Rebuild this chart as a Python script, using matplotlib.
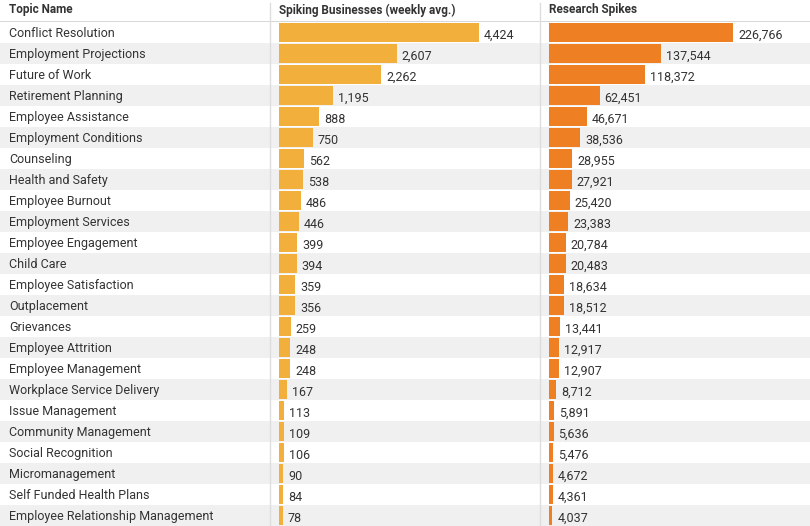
import matplotlib.pyplot as plt

topics = [
    "Conflict Resolution", "Employment Projections", "Future of Work",
    "Retirement Planning", "Employee Assistance", "Employment Conditions",
    "Counseling", "Health and Safety", "Employee Burnout", "Employment Services",
    "Employee Engagement", "Child Care", "Employee Satisfaction", "Outplacement",
    "Grievances", "Employee Attrition", "Employee Management",
    "Workplace Service Delivery", "Issue Management", "Community Management",
    "Social Recognition", "Micromanagement", "Self Funded Health Plans",
    "Employee Relationship Management",
]
spiking = [4424, 2607, 2262, 1195, 888, 750, 562, 538, 486, 446, 399, 394,
           359, 356, 259, 248, 248, 167, 113, 109, 106, 90, 84, 78]
research = [226766, 137544, 118372, 62451, 46671, 38536, 28955, 27921, 25420,
            23383, 20784, 20483, 18634, 18512, 13441, 12917, 12907, 8712, 5891,
            5636, 5476, 4672, 4361, 4037]
headers = ["Topic Name", "Spiking Businesses (weekly avg.)", "Research Spikes"]

plt.rcParams["font.family"] = ["Roboto", "DejaVu Sans"]

W, H = 810, 526
ROW_TOP = 22
n = len(topics)
text_color = "#333333"


def px_axes(fig, x0, y0, w, h):
    # pixel box (from top-left) -> figure fraction
    return fig.add_axes([x0 / W, 1 - (y0 + h) / H, w / W, h / H])


def main() -> None:
    fig = plt.figure(figsize=(W / 100, H / 100), dpi=100)

    # background: row stripes, names, separators
    bg = px_axes(fig, 0, ROW_TOP, W, H - ROW_TOP)
    bg.set_xlim(0, W)
    bg.set_ylim(n - 0.5, -0.5)
    bg.axis("off")
    for i, name in enumerate(topics):
        if i % 2 == 1:
            bg.axhspan(i - 0.5, i + 0.5, color="#eff0ef", lw=0)
        bg.text(9, i + 0.04, name, va="center", ha="left", fontsize=9,
                color=text_color)

    # header
    hd = px_axes(fig, 0, 0, W, ROW_TOP)
    hd.set_xlim(0, W)
    hd.set_ylim(ROW_TOP, 0)
    hd.axis("off")
    for x, label in zip([9, 279, 549], headers):
        hd.text(x, 10, label, va="center", ha="left", fontsize=8.5,
                fontweight="bold", color=text_color)
    hd.axhline(ROW_TOP - 0.5, color="#cfcfcf", lw=1.2)

    # separators across full height
    for x in [270, 540]:
        fig.add_artist(plt.Line2D([x / W, x / W], [0, 1 - 3 / H],
                                  color="#dddddd", lw=1))

    # bar columns
    cols = [
        (spiking, 279, 200, "#f3af3b"),
        (research, 549, 184, "#ee7f22"),
    ]
    for values, x0, max_px, color in cols:
        width_px = W - 540 - 9
        ax = px_axes(fig, x0, ROW_TOP, width_px, H - ROW_TOP)
        ax.set_xlim(0, max(values) * width_px / max_px)
        ax.set_ylim(n - 0.5, -0.5)
        ax.axis("off")
        ax.patch.set_alpha(0)
        ax.barh(range(n), values, height=0.9, color=color, lw=0)
        pad = max(values) * 5 / max_px
        for i, v in enumerate(values):
            ax.text(v + pad, i + 0.13, f"{v:,}", va="center", ha="left",
                    fontsize=9, color=text_color)

    fig.savefig("out.png", dpi=100)


if __name__ == "__main__":
    main()
